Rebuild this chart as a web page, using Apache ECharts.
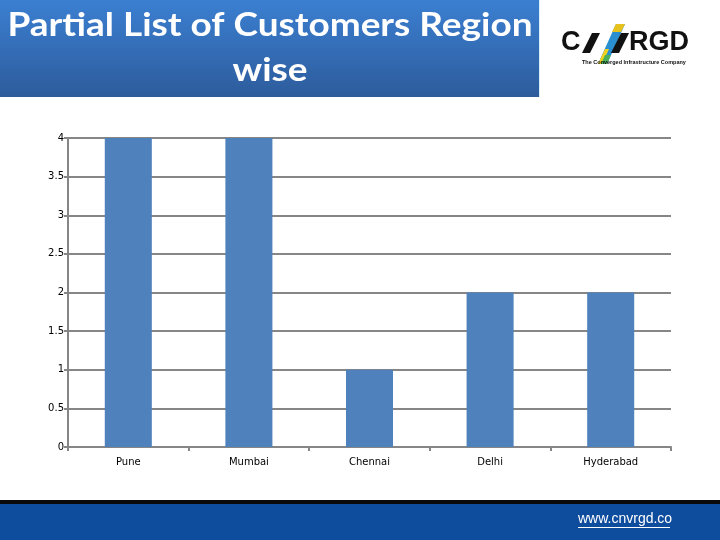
<!DOCTYPE html>
<html><head><meta charset="utf-8">
<script src="https://cdn.jsdelivr.net/npm/echarts@6/dist/echarts.min.js"></script>
<style>html,body{margin:0;padding:0;background:#fff}#c{width:720px;height:540px}</style>
</head><body><div id="c"></div>
<script>
var categories = ['Pune', 'Mumbai', 'Chennai', 'Delhi', 'Hyderabad'];
var values = [4, 4, 1, 2, 2];
var titleLines = ['Partial List of Customers Region', 'wise'];

var chart = echarts.init(document.getElementById('c'));
chart.setOption({
  animation: false,
  grid: {left: 68, right: 49, top: 138, bottom: 93},
  xAxis: {
    type: 'category', data: categories,
    axisLine: {lineStyle: {color: '#868686', width: 2}},
    axisTick: {show: true, length: 4, lineStyle: {color: '#868686', width: 2}},
    axisLabel: {color: '#000', fontSize: 10, fontFamily: 'DejaVu Sans', margin: 10}
  },
  yAxis: {
    type: 'value', min: 0, max: 4, interval: 0.5,
    axisLine: {show: true, lineStyle: {color: '#868686', width: 2}},
    axisTick: {show: true, length: 4, lineStyle: {color: '#868686', width: 2}},
    splitLine: {lineStyle: {color: '#868686', width: 2}},
    axisLabel: {color: '#000', fontSize: 10, fontFamily: 'DejaVu Sans', margin: 4}
  },
  series: [{
    type: 'bar', data: values, barWidth: '39%',
    itemStyle: {color: '#4f81bd'}
  }],
  graphic: [
    {type: 'rect', x: 0, y: 0, shape: {width: 540, height: 97},
     style: {fill: new echarts.graphic.LinearGradient(0, 0, 0, 1, [{offset: 0, color: '#3b7fd1'}, {offset: 1, color: '#2d5c9c'}])}},
    {type: 'text', x: 270, y: 25, scaleX: 1.12, style: {text: titleLines[0], align: 'center', verticalAlign: 'middle',
      fill: '#fff', font: 'bold 33px Lato'}},
    {type: 'text', x: 270, y: 70, scaleX: 1.12, style: {text: titleLines[1], align: 'center', verticalAlign: 'middle',
      fill: '#fff', font: 'bold 33px Lato'}},
    {type: 'rect', x: 539, y: 0, shape: {width: 1, height: 97}, style: {fill: '#d8eef8'}},
    {type: 'rect', x: 0, y: 500, shape: {width: 720, height: 4}, style: {fill: '#0a0a0a'}},
    {type: 'rect', x: 0, y: 504, shape: {width: 720, height: 36}, style: {fill: '#0e4c9e'}},
    {type: 'text', x: 578, y: 519, style: {text: 'www.cnvrgd.co', fill: '#fff', font: '14px "Liberation Sans"', verticalAlign: 'middle'}},
    {type: 'rect', x: 578, y: 527, shape: {width: 92, height: 1}, style: {fill: '#fff'}},
    {type: 'text', x: 561, y: 43, style: {text: 'C', fill: '#111', font: 'bold 27px "Liberation Sans"', verticalAlign: 'middle'}},
    {type: 'polygon', shape: {points: [[582, 53], [590, 53], [600, 33], [592, 33]]}, style: {fill: '#111'}},
    {type: 'polygon', shape: {points: [[598, 64], [607, 64], [625, 24], [616, 24]]}, style: {fill: '#2a8fd0'}},
    {type: 'polygon', shape: {points: [[598, 64], [602, 64], [609, 49], [605, 49]]}, style: {fill: '#f2d21c'}},
    {type: 'polygon', shape: {points: [[601, 64], [607, 64], [611, 55], [605, 55]]}, style: {fill: '#4bb05a'}},
    {type: 'polygon', shape: {points: [[616, 24], [625, 24], [621, 32], [612, 32]]}, style: {fill: '#e8c21c'}},
    {type: 'polygon', shape: {points: [[611, 53], [619, 53], [629, 33], [621, 33]]}, style: {fill: '#111'}},
    {type: 'text', x: 629, y: 43, style: {text: 'RGD', fill: '#111', font: 'bold 27px "Liberation Sans"', verticalAlign: 'middle'}},
    {type: 'text', x: 582, y: 62, style: {text: 'The Converged Infrastructure Company', fill: '#111', font: 'bold 5.5px "Liberation Sans"', verticalAlign: 'middle'}}
  ]
});
</script></body></html>
